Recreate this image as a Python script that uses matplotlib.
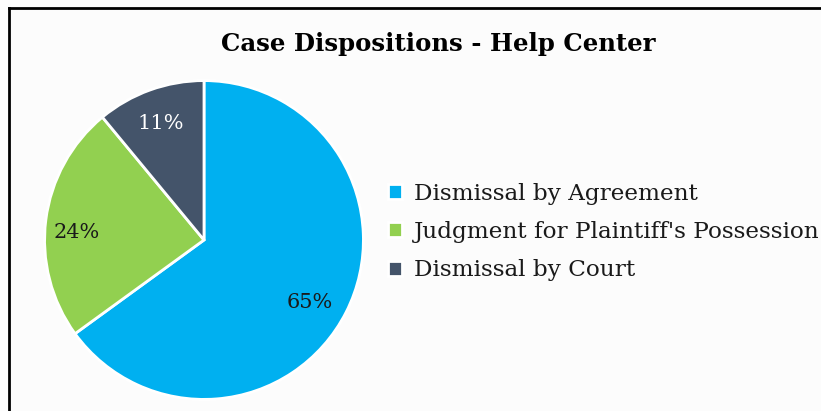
import numpy as np
import matplotlib.pyplot as plt

# case outcome shares (percent)
categories = ["Dismissal by Agreement", "Judgment for Plaintiff's Possession", "Dismissal by Court"]
shares = [65, 24, 11]
colors = ["#00B0F0", "#92D050", "#44546A"]
label_colors = ["#1a1a1a", "#1a1a1a", "white"]
# radial distance and angular nudge (deg) of each percent label
label_dist = [0.77, 0.80, 0.78]
label_nudge = [-3.5, 3.7, 0.6]

plt.rcParams['font.family'] = ['DejaVu Serif']

fig = plt.figure(figsize=(8.21, 4.11), dpi=100)
fig.patch.set_facecolor("#fcfcfc")

# frame around the chart area (open at right/bottom)
fig.add_artist(plt.Line2D([9 / 821, 9 / 821], [0, 1 - 8 / 411], color="black", lw=2))
fig.add_artist(plt.Line2D([9 / 821, 1], [1 - 8 / 411, 1 - 8 / 411], color="black", lw=2))

ax = fig.add_axes([43 / 821, 10 / 411, 322 / 821, 322 / 411])
wedges, _ = ax.pie(shares, colors=colors, startangle=90, counterclock=False,
                   radius=1, wedgeprops=dict(edgecolor="white", linewidth=2))
ax.set_xlim(-1.01, 1.01)
ax.set_ylim(-1.01, 1.01)
ax.set_aspect("equal")
ax.axis("off")

for w, val, c, d, n in zip(wedges, shares, label_colors, label_dist, label_nudge):
    ang = np.deg2rad((w.theta1 + w.theta2) / 2 + n)
    ax.text(d * np.cos(ang), d * np.sin(ang), f"{val}%", ha="center", va="center",
            fontsize=15, color=c)

fig.text(438 / 821, 1 - 44 / 411, "Case Dispositions - Help Center", ha="center", va="center",
         fontsize=17.6, fontweight="bold", color="black")

leg = fig.legend(wedges, categories, loc="center left", bbox_to_anchor=(367 / 821, 1 - 232 / 411),
                 frameon=False, fontsize=16.7, handlelength=0.61, handleheight=0.61,
                 handletextpad=0.52, labelspacing=0.7)
for t in leg.get_texts():
    t.set_color("#1a1a1a")

fig.savefig("out.png", dpi=100, facecolor=fig.get_facecolor())
